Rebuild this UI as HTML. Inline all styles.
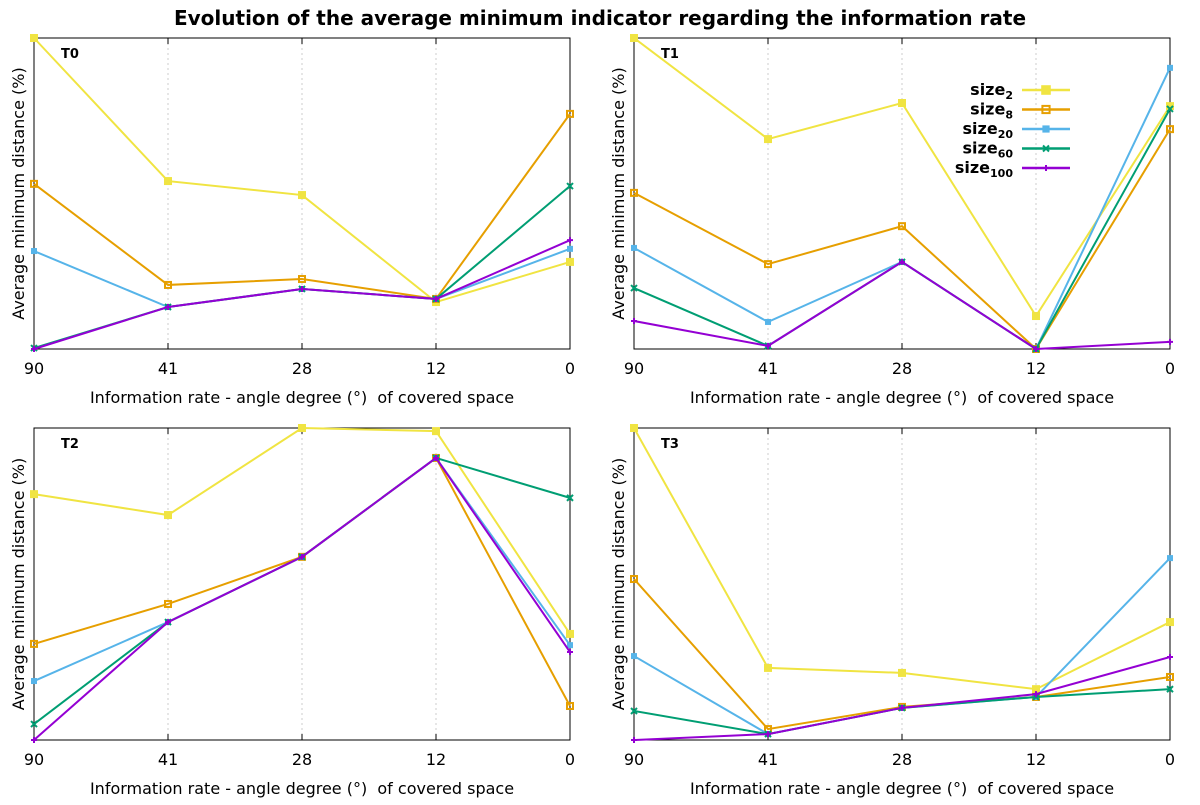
<!DOCTYPE html>
<html><head><meta charset="utf-8"><style>
body{margin:0;background:#fff;font-family:"Liberation Sans","DejaVu Sans",sans-serif}
svg text{font-family:"DejaVu Sans","Liberation Sans",sans-serif;white-space:pre}
</style></head><body>
<svg id="c" width="1200" height="800" xmlns="http://www.w3.org/2000/svg">
<text x="600" y="25" text-anchor="middle" font-size="20" font-weight="bold">Evolution of the average minimum indicator regarding the information rate</text>
</svg>
<script>
const categories=["90","41","28","12","0"];
const seriesNames=["2","8","20","60","100"];
const t0_size2=[100,54.0,49.5,15.1,28.0];
const t0_size8=[53.1,20.6,22.5,16.1,75.6];
const t0_size20=[31.5,13.5,19.3,16.1,32.2];
const t0_size60=[0.3,13.5,19.3,16.1,52.4];
const t0_size100=[0,13.5,19.3,16.1,35.0];
const t1_size2=[100,67.5,79.1,10.6,78.1];
const t1_size8=[50.2,27.3,39.5,0,70.7];
const t1_size20=[32.5,8.7,28.0,0,90.4];
const t1_size60=[19.6,1.0,28.0,0,77.2];
const t1_size100=[9.0,1.0,28.0,0,2.3];
const t2_size2=[78.8,72.1,100,99.0,34.0];
const t2_size8=[30.8,43.6,58.7,90.4,10.9];
const t2_size20=[18.9,37.8,58.7,90.4,30.4];
const t2_size60=[5.1,37.8,58.7,90.4,77.6];
const t2_size100=[0,37.8,58.7,90.4,28.2];
const t3_size2=[100,23.1,21.5,16.3,37.8];
const t3_size8=[51.6,3.5,10.6,13.8,20.2];
const t3_size20=[26.9,1.9,10.3,13.8,58.3];
const t3_size60=[9.3,1.9,10.3,13.8,16.3];
const t3_size100=[0,1.9,10.3,14.7,26.6];
const panels=[
 {name:"T0",x:34,y:38,w:536,h:311,data:[t0_size2,t0_size8,t0_size20,t0_size60,t0_size100]},
 {name:"T1",x:634,y:38,w:536,h:311,data:[t1_size2,t1_size8,t1_size20,t1_size60,t1_size100],legend:true},
 {name:"T2",x:34,y:428,w:536,h:312,data:[t2_size2,t2_size8,t2_size20,t2_size60,t2_size100]},
 {name:"T3",x:634,y:428,w:536,h:312,data:[t3_size2,t3_size8,t3_size20,t3_size60,t3_size100]}];
const colors=["#f0e442","#e69f00","#56b4e9","#009e73","#9400d3"];
const NS="http://www.w3.org/2000/svg";
const svg=document.getElementById("c");
function mk(tag,attrs,parent,txt){const e=document.createElementNS(NS,tag);for(const k in attrs)e.setAttribute(k,attrs[k]);if(txt!==undefined)e.textContent=txt;(parent||svg).appendChild(e);return e;}
function marker(g,i,x,y,s){
 s=s||1;const c=colors[i];
 if(i===0)mk("rect",{x:x-4*s,y:y-4*s,width:8*s,height:8*s,fill:c},g);
 else if(i===1)mk("rect",{x:x-3*s,y:y-3*s,width:6*s,height:6*s,fill:"none",stroke:c,"stroke-width":2},g);
 else if(i===2){mk("rect",{x:x-3*s,y:y-3*s,width:6*s,height:6*s,fill:c},g);}
 else if(i===3)mk("path",{d:`M${x-3},${y-3}L${x+3},${y+3}M${x-3},${y+3}L${x+3},${y-3}`,stroke:c,"stroke-width":2},g);
 else mk("path",{d:`M${x-3},${y}L${x+3},${y}M${x},${y-3}L${x},${y+3}`,stroke:c,"stroke-width":2},g);
}
panels.forEach((p,pi)=>{
 const g=mk("g",{});
 
 
 const xs=i=>p.x+i*p.w/(categories.length-1);
 const ys=v=>p.y+p.h-v/100*p.h;
 for(let i=1;i<categories.length-1;i++){
  const gl=mk("line",{x1:xs(i),x2:xs(i),y1:p.y,y2:p.y+p.h,stroke:"#ccc","stroke-dasharray":"2,3"},g);
  
  
 }
 const fr=mk("rect",{x:p.x,y:p.y,width:p.w,height:p.h,fill:"none",stroke:"#000","stroke-width":1},g);
 
 
 categories.forEach((c,i)=>{
  mk("line",{x1:xs(i),x2:xs(i),y1:p.y+p.h,y2:p.y+p.h-6,stroke:"#000"},g);
  mk("line",{x1:xs(i),x2:xs(i),y1:p.y,y2:p.y+6,stroke:"#000"},g);
  const t=mk("text",{x:xs(i),y:p.y+p.h+25,"text-anchor":"middle","font-size":16},g,c);
  
  
 });
 const xl=mk("text",{x:p.x+p.w/2,y:p.y+p.h+54,"text-anchor":"middle","font-size":16,"xml:space":"preserve"},g,"Information rate - angle degree (°)  of covered space");
 
 
 const cy=p.y+p.h/2, lx=p.x-10;
 const yl=mk("text",{x:lx,y:cy,"text-anchor":"middle","font-size":16,transform:`rotate(-90 ${lx} ${cy})`},g,"Average minimum distance (%)");
 
 
 const pt=mk("text",{x:p.x+27,y:p.y+20,"font-size":13,"font-weight":"bold"},g,p.name);
 
 
 p.data.forEach((arr,si)=>{
  const pts=arr.map((v,i)=>xs(i)+","+ys(v)).join(" ");
  const l=mk("polyline",{points:pts,fill:"none",stroke:colors[si],"stroke-width":2},g);
  
  
  arr.forEach((v,i)=>marker(g,si,xs(i),ys(v)));
 });
 if(p.legend){
  seriesNames.forEach((n,i)=>{
   const ly=90+i*19.5;
   const lg=mk("g",{},g);
   
   
   const t=mk("text",{x:1013,y:ly+5,"text-anchor":"end","font-size":16,"font-weight":"bold"},lg);
   mk("tspan",{},t,"size");
   mk("tspan",{"font-size":11,dy:4},t,n);
   mk("line",{x1:1022,x2:1070,y1:ly,y2:ly,stroke:colors[i],"stroke-width":2.5},lg);
   marker(lg,i,1046,ly,1.2);
  });
 }
});
</script>
</body></html>
